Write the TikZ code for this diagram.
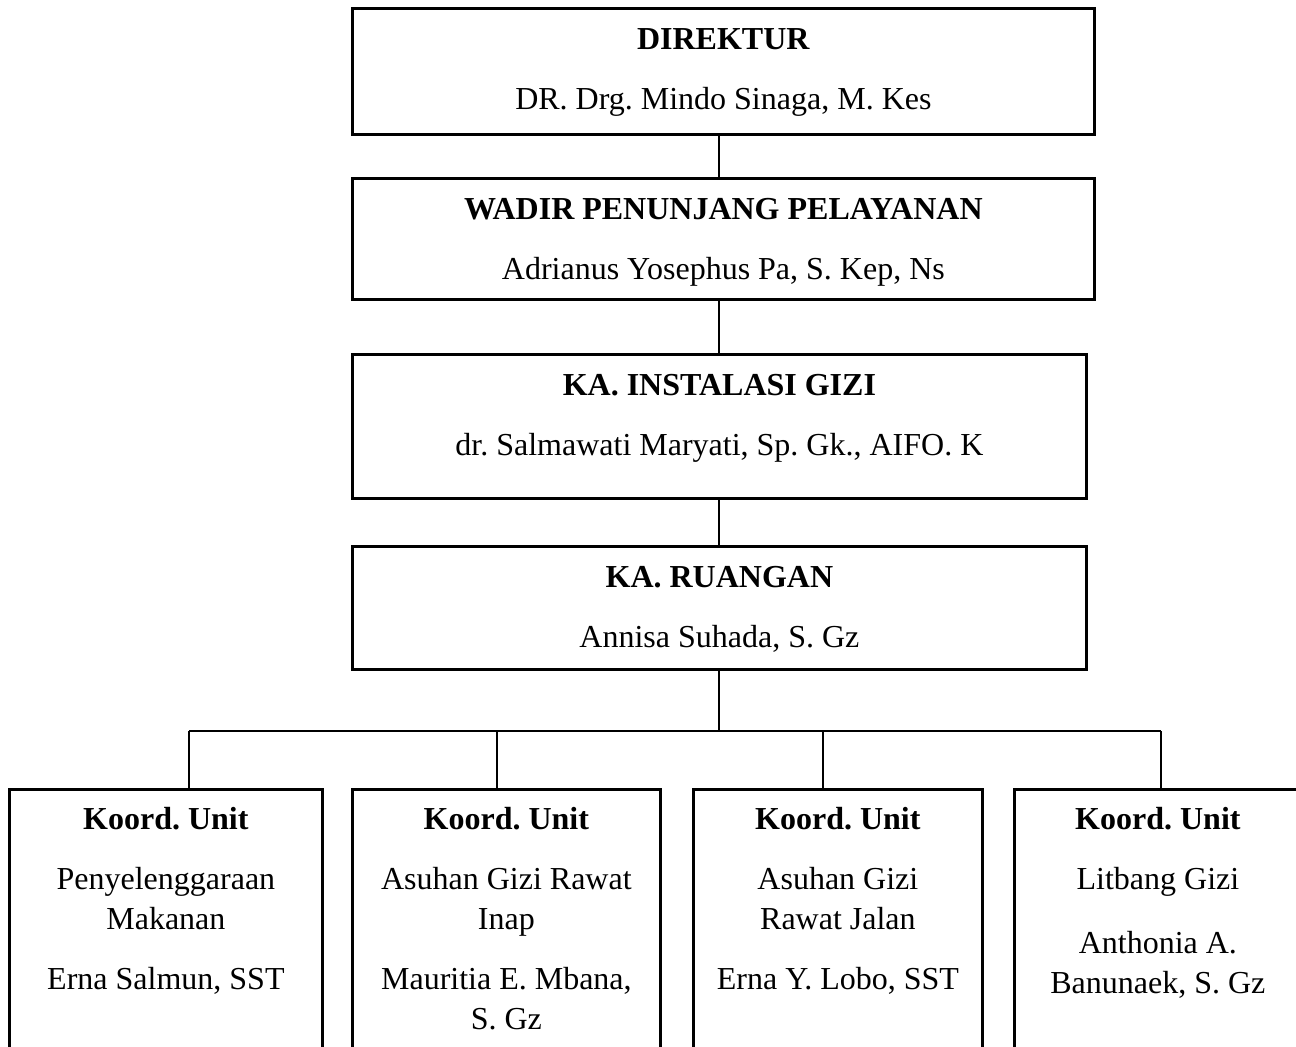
\documentclass[tikz,border=0pt]{standalone}
\usepackage{fontspec}
\setmainfont{Liberation Serif}
\usepackage{tikz}
\usetikzlibrary{calc}
\frenchspacing

\begin{document}
\begin{tikzpicture}[x=0.5pt, y=-0.5pt,
  box/.style={draw, line width=1.4pt, anchor=north west, inner sep=0pt},
  txt/.style={anchor=north, align=center, inner sep=0pt,
    font=\fontsize{16pt}{20pt}\selectfont},
  link/.style={line width=1.2pt}]
  \clip (0,0) rectangle (1296,1047);

  % Direktur
  \node[box, minimum width=371pt, minimum height=63pt] (dir) at (351,7) {};
  \node[txt] (dirT) at ($(dir.north)+(0,14)$)
    {\strut\textbf{DIREKTUR}\\[10pt] DR. Drg. Mindo Sinaga, M. Kes};

  % Wadir
  \node[box, minimum width=371pt, minimum height=60.5pt] (wadir) at (351,177) {};
  \node[txt] (wadirT) at ($(wadir.north)+(0,14)$)
    {\strut\textbf{WADIR PENUNJANG PELAYANAN}\\[10pt] Adrianus Yosephus Pa, S. Kep, Ns};

  % Instalasi gizi
  \node[box, minimum width=367pt, minimum height=72pt] (gizi) at (351,353) {};
  \node[txt] (giziT) at ($(gizi.north)+(0,14)$)
    {\strut\textbf{KA. INSTALASI GIZI}\\[10pt] dr. Salmawati Maryati, Sp. Gk., AIFO. K};

  % Ruangan
  \node[box, minimum width=367pt, minimum height=61.5pt] (ruang) at (351,545) {};
  \node[txt] (ruangT) at ($(ruang.north)+(0,14)$)
    {\strut\textbf{KA. RUANGAN}\\[10pt] Annisa Suhada, S. Gz};

  % Koordinator units (cut off at the bottom)
  \node[box, minimum width=156.5pt, minimum height=145pt] (unitA) at (8,788) {};
  \node[box, minimum width=154pt, minimum height=145pt] (unitB) at (351,788) {};
  \node[box, minimum width=144.5pt, minimum height=145pt] (unitC) at (692,788) {};
  \node[box, minimum width=143.5pt, minimum height=145pt] (unitD) at (1013,788) {};

  \node[txt] (unitAT) at ($(unitA.north)+(0,13)$)
    {\strut\textbf{Koord. Unit}\\[10pt] Penyelenggaraan\\ Makanan\\[10pt] Erna Salmun, SST};
  \node[txt] (unitBT) at ($(unitB.north)+(0,13)$)
    {\strut\textbf{Koord. Unit}\\[10pt] Asuhan Gizi Rawat\\ Inap\\[10pt] Mauritia E. Mbana,\\ S. Gz};
  \node[txt] (unitCT) at ($(unitC.north)+(0,13)$)
    {\strut\textbf{Koord. Unit}\\[10pt] Asuhan Gizi\\ Rawat Jalan\\[10pt] Erna Y. Lobo, SST};
  \node[txt] (unitDT) at ($(unitD.north)+(0,13)$)
    {\strut\textbf{Koord. Unit}\\[10pt] Litbang Gizi\\[12pt] Anthonia A.\\ Banunaek, S. Gz};

  % Vertical stem
  \coordinate (stem) at (719,0);
  \draw[link] (stem |- dir.south) -- (stem |- wadir.north);
  \draw[link] (stem |- wadir.south) -- (stem |- gizi.north);
  \draw[link] (stem |- gizi.south) -- (stem |- ruang.north);

  % Branch to the units
  \coordinate (jA) at (189,731);
  \coordinate (jB) at (497,731);
  \coordinate (jC) at (823,731);
  \coordinate (jD) at (1161,731);
  \draw[link] (stem |- ruang.south) -- (stem |- jA);
  \draw[link] (jA) -- (jD);
  \foreach \j/\u in {jA/unitA, jB/unitB, jC/unitC, jD/unitD}
    \draw[link] (\j) -- (\j |- \u.north);
\end{tikzpicture}
\end{document}
